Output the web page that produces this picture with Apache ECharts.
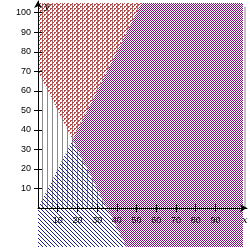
<!DOCTYPE html>
<html>
<head>
<meta charset="utf-8">
<script src="https://cdn.jsdelivr.net/npm/echarts@6/dist/echarts.min.js"></script>
<style>
  html, body { margin: 0; padding: 0; background: #fff; }
  #chart { width: 250px; height: 250px; }
</style>
</head>
<body>
<div id="chart"></div>
<script>
// boundaries: y = 70 - 2x (hatched "/" above it), y = 2x (hatched "\" below it)
const xTicks = [10, 20, 30, 40, 50, 60, 70, 80, 90];
const yTicks = [10, 20, 30, 40, 50, 60, 70, 80, 90, 100];

// polygon vertices in chart units
const quadrant = [[0, 0], [104, 0], [104, 105], [0, 105]];
const redOnly = [[0, 70], [17.5, 35], [52.5, 105], [0, 105]];
const blueOnly = [[0, 0], [17.5, 35], [45, -20], [0, -20]];
const bothSides = [[17.5, 35], [52.5, 105], [104, 105], [104, -20], [45, -20]];
const edgeLine = [[105, 103], [105, 0]];

// small pixel tiles used as fills
function tile(w, h, color, cells, bg) {
  const c = document.createElement('canvas');
  c.width = w;
  c.height = h;
  const ctx = c.getContext('2d');
  if (bg) {
    ctx.fillStyle = bg;
    ctx.fillRect(0, 0, w, h);
  }
  ctx.fillStyle = color;
  cells.forEach(p => ctx.fillRect(p[0], p[1], 1, 1));
  return { image: c, repeat: 'repeat' };
}

const grayFill = tile(5, 1, '#8a8a8a', [[2, 0]]);
const redFill = tile(4, 4, '#b84444', [[3, 0], [2, 0], [2, 1], [1, 2], [0, 2], [0, 3]]);
const blueFill = tile(4, 4, '#1c1c8c', [[0, 0], [1, 1], [2, 2], [3, 3]]);
const purpleFill = tile(2, 2, '#80107f', [[0, 0], [1, 1]], '#ffffff');

function area(points, fill) {
  return {
    type: 'custom',
    xAxisIndex: 0,
    yAxisIndex: 0,
    silent: true,
    clip: false,
    z: 1,
    data: [0],
    renderItem: function (params, api) {
      return {
        type: 'polygon',
        shape: { points: points.map(p => api.coord(p)) },
        style: { fill: fill, stroke: null }
      };
    }
  };
}

const chart = echarts.init(document.getElementById('chart'));

const hidden = {
  axisLine: { show: false },
  axisTick: { show: false },
  axisLabel: { show: false },
  splitLine: { show: false }
};
const labelStyle = { color: '#000', fontSize: 9, fontFamily: 'Liberation Sans' };

const option = {
  animation: false,
  backgroundColor: '#fff',
  grid: [
    { left: 38, right: 7, top: 3, bottom: 3 },
    { left: 38, right: 3, top: 1, bottom: 42 }
  ],
  xAxis: [
    Object.assign({ type: 'value', gridIndex: 0, min: 0, max: 104 }, hidden),
    {
      type: 'value', gridIndex: 1, min: 0, max: 106, position: 'bottom', z: 10,
      axisLine: { lineStyle: { color: '#000', width: 1 }, symbol: ['none', 'arrow'], symbolSize: [6, 7] },
      axisTick: { customValues: xTicks, length: 4, lineStyle: { color: '#000' } },
      axisLabel: Object.assign({ customValues: xTicks, margin: 8 }, labelStyle),
      splitLine: { show: false }
    },
    {
      type: 'value', gridIndex: 1, min: 0, max: 106, position: 'bottom', z: 10,
      axisLine: { show: false },
      axisTick: { customValues: xTicks, inside: true, length: 4, lineStyle: { color: '#000' } },
      axisLabel: { show: false },
      splitLine: { show: false }
    }
  ],
  yAxis: [
    Object.assign({ type: 'value', gridIndex: 0, min: -20, max: 105 }, hidden),
    {
      type: 'value', gridIndex: 1, min: 0, max: 106, position: 'left', z: 10,
      axisLine: { lineStyle: { color: '#000', width: 1 }, symbol: ['none', 'arrow'], symbolSize: [6, 7] },
      axisTick: { customValues: yTicks, length: 4, lineStyle: { color: '#000' } },
      axisLabel: Object.assign({ customValues: yTicks, margin: 7 }, labelStyle),
      splitLine: { show: false }
    },
    {
      type: 'value', gridIndex: 1, min: 0, max: 106, position: 'left', z: 10,
      axisLine: { show: false },
      axisTick: { customValues: yTicks, inside: true, length: 4, lineStyle: { color: '#000' } },
      axisLabel: { show: false },
      splitLine: { show: false }
    }
  ],
  graphic: [
    { type: 'text', left: 44, top: 1, z: 20, style: { text: 'y', font: 'italic 10px "DejaVu Serif"', fill: '#000' } },
    { type: 'text', left: 242, top: 215, z: 20, style: { text: 'x', font: 'italic 10px "DejaVu Serif"', fill: '#000' } }
  ],
  series: [
    area(quadrant, grayFill),
    area(redOnly, redFill),
    area(blueOnly, blueFill),
    area(bothSides, purpleFill),
    {
      type: 'line',
      xAxisIndex: 1,
      yAxisIndex: 1,
      data: edgeLine,
      symbol: 'none',
      silent: true,
      z: 1,
      lineStyle: { color: '#8a8a8a', width: 1 }
    }
  ]
};

chart.setOption(option);
</script>
</body>
</html>
